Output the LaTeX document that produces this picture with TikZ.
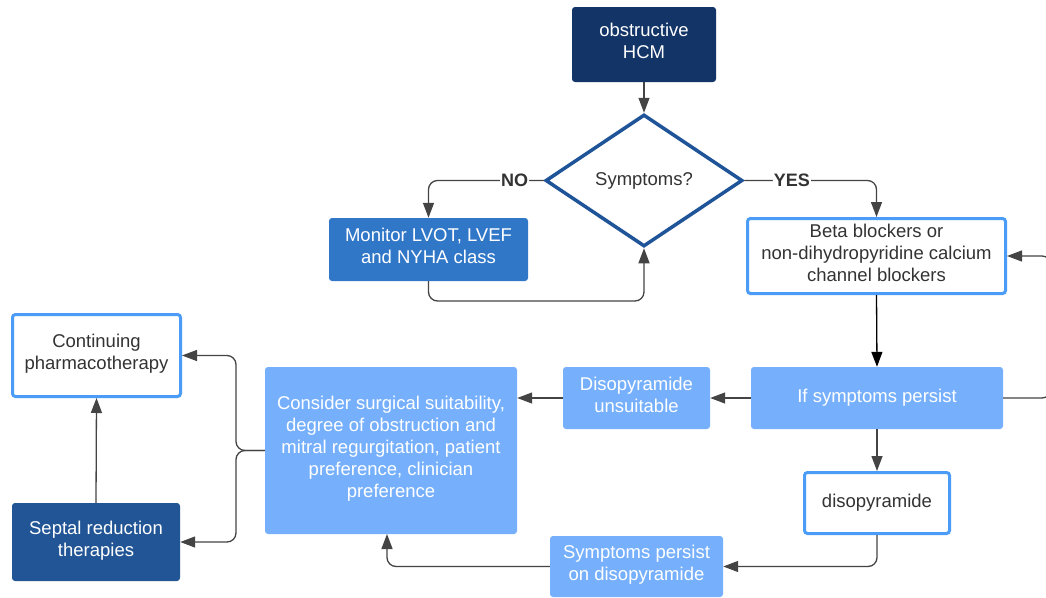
\documentclass[tikz,border=0pt]{standalone}
\usepackage{fontspec}
\setmainfont{Liberation Sans}
\usetikzlibrary{shapes.geometric,arrows.meta}
\definecolor{navy}{HTML}{133466}
\definecolor{dborder}{HTML}{1F5598}
\definecolor{midblue}{HTML}{3177C8}
\definecolor{lightblue}{HTML}{76B0FC}
\definecolor{septblue}{HTML}{225595}
\definecolor{brightb}{HTML}{4A9CF7}
\definecolor{txtgray}{HTML}{333333}
\definecolor{linegray}{HTML}{444444}
\tikzset{
  box/.style={rectangle, rounded corners=3pt, align=center, inner sep=0pt,
    font=\fontsize{18.5}{22}\selectfont, execute at end node=\strut},
  fillbox/.style={box, fill=#1, text=white},
  whitebox/.style={box, draw=brightb, line width=3pt, fill=white, text=txtgray},
  conn/.style={draw=linegray, line width=1.3pt, rounded corners=9pt,
    -{Triangle[length=15pt,width=11pt]}},
  lbl/.style={fill=white, inner sep=1pt, text=txtgray,
    font=\fontsize{18}{22}\selectfont\bfseries},
}
\begin{document}
\begin{tikzpicture}[x=1pt,y=-1pt]
\useasboundingbox (0,0) rectangle (1046,597);
\fill[white] (0,0) rectangle (1046,597);

\node[fillbox=navy, minimum width=144pt, minimum height=75pt] (hcm) at (644,44.5) {obstructive\\HCM};
\node[diamond, draw=dborder, line width=3.5pt, fill=white, minimum width=197pt, minimum height=132pt,
  inner sep=0pt, text=txtgray, font=\fontsize{18.5}{22}\selectfont] (sym) at (644,180.5) {Symptoms?};
\node[fillbox=midblue, minimum width=199pt, minimum height=63pt] (mon) at (428.5,249.5) {Monitor LVOT, LVEF\\and NYHA class};
\node[whitebox, minimum width=258pt, minimum height=75pt] (beta) at (876.5,256) {Beta blockers or\\non-dihydropyridine calcium\\channel blockers};
\node[fillbox=lightblue, minimum width=252pt, minimum height=62pt] (ifp) at (877,398) {If symptoms persist};
\node[fillbox=lightblue, minimum width=147pt, minimum height=62pt] (uns) at (636.5,398) {Disopyramide\\unsuitable};
\node[fillbox=lightblue, minimum width=252pt, minimum height=167pt] (cons) at (391,450.5) {Consider surgical suitability,\\degree of obstruction and\\mitral regurgitation, patient\\preference, clinician\\preference};
\node[whitebox, minimum width=145pt, minimum height=61pt] (diso) at (877,503) {disopyramide};
\node[fillbox=lightblue, minimum width=173pt, minimum height=61pt] (sp) at (636.5,566.5) {Symptoms persist\\on disopyramide};
\node[whitebox, minimum width=168pt, minimum height=82pt] (cont) at (96.5,355.5) {Continuing\\pharmacotherapy};
\node[fillbox=septblue, minimum width=168pt, minimum height=78pt] (sep) at (96,542) {Septal reduction\\therapies};

\draw[conn] (hcm.south) -- (sym.north);
\draw[conn] (sym.west) -| node[lbl, pos=0.126] {NO} (mon.north);
\draw[conn] (sym.east) -| node[lbl, pos=0.18] {YES} (beta.north);
\draw[conn] (mon.south) -- (mon.south |- 0,301) -| (sym.south);
\draw[conn, draw=black] (beta.south) -- (ifp.north);
\draw[conn] (ifp.east) -- (1051,398) -- (1051,256) -- (beta.east);
\draw[conn] (ifp.west) -- (uns.east);
\draw[conn] (uns.west) -- (uns.west -| cons.east);
\draw[conn] (ifp.south) -- (diso.north);
\draw[conn] (diso.south) |- (sp.east);
\draw[conn] (sp.west) -| (387,534);
\draw[conn] (cons.west) -- (236,450.5) |- (cont.east);
\draw[conn] (cons.west) -- (236,450.5) |- (sep.east);
\draw[conn] (sep.north) -- (cont.south);
\end{tikzpicture}
\end{document}
